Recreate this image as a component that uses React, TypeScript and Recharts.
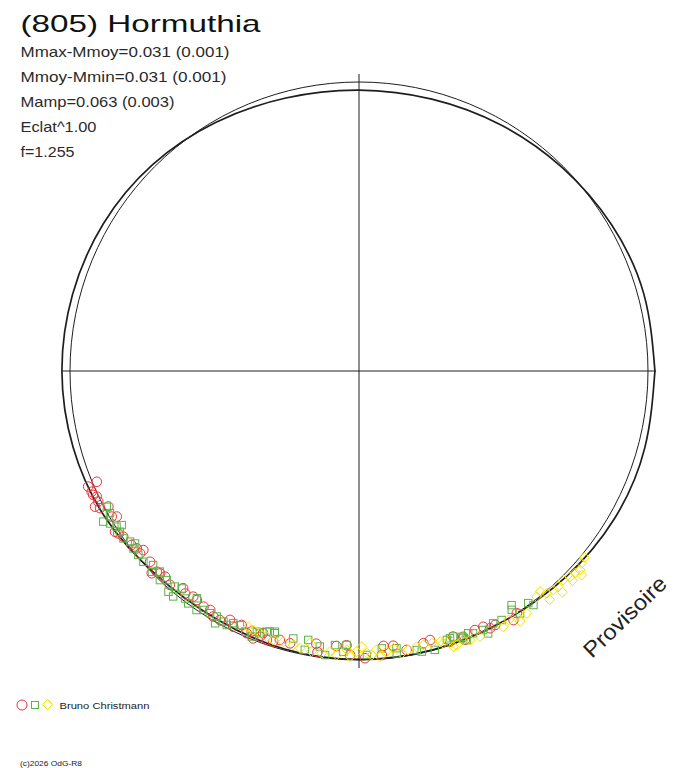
import React from 'react'
import { ScatterChart, Scatter, XAxis, YAxis, ReferenceLine, ReferenceDot } from 'recharts'

// Polar light curve: angle = rotational phase (deg, counter-clockwise from the right),
// radius = brightness relative to the mean circle (1 = mean).
const FIT_ANGLE = [0, 15, 30, 45, 60, 75, 90, 105, 120, 135, 150, 165, 180, 195, 210, 225, 240, 255, 270, 285, 300, 315, 330, 345, 360]
const FIT_RADIUS = [1.024, 1.021, 1.010, 0.995, 0.983, 0.974, 0.972, 0.978, 0.993, 1.010, 1.021, 1.026, 1.028, 1.024, 1.014, 0.995, 0.990, 0.996, 0.998, 0.998, 1.000, 1.010, 1.021, 1.024, 1.024]

// observations: [phase angle, relative radius]
const RED_OBS: [number, number][] = [
  [202.9, 0.985], [203.1, 1.019], [204.3, 1.015], [205.0, 1.015], [205.6, 1.006], [206.6, 1.009], [207.2, 1.027],
  [207.9, 1.014], [208.4, 0.986], [210.5, 0.993], [211.0, 0.978], [213.4, 1.011], [214.0, 1.005], [215.1, 0.997],
  [217.4, 0.991], [218.6, 0.984], [219.7, 0.970], [219.8, 0.986], [222.4, 0.979], [224.3, 1.002], [224.8, 0.986],
  [225.5, 0.982], [226.7, 0.978], [228.5, 0.988], [231.0, 0.967], [232.0, 0.977], [233.7, 0.969], [234.7, 0.971],
  [236.6, 0.977], [238.1, 0.974], [239.3, 0.988], [240.8, 0.987], [242.6, 0.970], [243.8, 0.986], [245.2, 0.968],
  [246.8, 0.987], [247.6, 0.975], [248.4, 0.995], [249.6, 0.981], [249.9, 0.966], [251.1, 0.984], [252.4, 0.982],
  [253.6, 0.970], [255.8, 0.972], [261.1, 0.955], [261.6, 0.983], [265.3, 0.955], [267.4, 0.950], [268.2, 0.983],
  [271.2, 0.994], [274.6, 0.986], [275.1, 0.955], [277.1, 0.958], [279.7, 0.979], [283.3, 0.968], [284.8, 0.963],
  [288.6, 0.988], [289.5, 0.975], [291.4, 0.988], [291.5, 1.000], [294.1, 0.982], [295.9, 0.984], [297.0, 0.999],
  [298.2, 0.997], [301.8, 1.014], [303.1, 1.000],
]
const GREEN_OBS: [number, number][] = [
  [208.3, 0.991], [209.7, 0.992], [210.5, 1.027], [211.5, 1.010], [212.7, 0.997], [213.0, 0.979], [213.9, 0.997],
  [215.4, 1.000], [216.7, 0.988], [217.6, 0.978], [218.2, 0.993], [219.8, 0.994], [221.5, 0.996], [223.3, 0.979],
  [224.1, 0.998], [225.2, 0.978], [226.4, 0.999], [227.4, 0.983], [229.2, 1.009], [229.5, 0.981], [230.5, 1.011],
  [230.8, 0.971], [232.6, 0.991], [233.7, 0.998], [234.5, 0.966], [235.8, 1.000], [236.9, 0.987], [238.4, 0.984],
  [239.9, 0.982], [240.3, 1.005], [241.6, 0.986], [242.5, 0.991], [243.5, 0.975], [244.9, 0.971], [246.4, 0.984],
  [248.0, 0.991], [248.6, 0.969], [249.3, 0.970], [250.5, 0.957], [251.1, 0.953], [252.1, 0.948], [252.2, 0.953],
  [256.2, 0.953], [259.0, 0.983], [259.3, 0.947], [261.9, 0.963], [263.2, 0.990], [265.0, 0.952], [266.8, 0.973],
  [267.4, 0.949], [271.6, 0.983], [274.7, 0.963], [277.6, 0.986], [277.7, 0.968], [281.7, 0.986], [282.6, 0.995],
  [285.2, 1.000], [288.1, 0.979], [288.8, 0.977], [289.5, 0.975], [291.1, 0.986], [291.3, 0.993], [291.8, 1.003],
  [292.6, 0.983], [293.5, 0.990], [295.6, 0.994], [296.2, 1.012], [298.0, 0.989], [299.8, 0.993], [302.6, 0.981],
  [303.1, 0.967], [303.6, 1.007], [306.1, 0.994], [306.7, 1.010],
]
const YELLOW_OBS: [number, number][] = [
  [246.6, 0.965], [247.8, 0.968], [249.3, 0.970], [250.8, 0.973], [252.3, 0.977], [254.4, 0.973], [256.5, 0.975],
  [258.0, 0.981], [259.8, 0.957], [260.4, 0.985], [262.5, 0.985], [264.1, 0.976], [265.5, 0.986], [267.5, 0.966],
  [268.2, 0.989], [269.5, 0.971], [270.6, 0.954], [271.6, 0.977], [272.6, 0.984], [273.6, 0.967], [274.2, 0.991],
  [275.6, 0.976], [277.1, 0.967], [278.6, 0.988], [280.0, 0.980], [281.8, 0.975], [283.2, 0.974], [285.0, 0.975],
  [286.7, 0.978], [287.2, 0.986], [288.7, 0.983], [288.9, 1.008], [289.6, 1.007], [291.2, 0.998], [292.4, 1.007],
  [294.5, 1.010], [299.4, 1.016], [301.0, 1.005], [302.7, 1.010], [302.8, 1.030], [304.7, 1.020], [308.2, 0.994],
  [309.4, 0.988], [309.8, 1.030], [310.2, 1.007], [311.6, 1.013], [312.6, 1.040], [312.7, 1.016], [314.3, 1.011],
  [315.5, 1.035], [315.7, 1.020], [316.9, 1.024], [317.5, 1.045], [318.0, 1.029], [319.2, 1.018], [320.4, 1.012],
]

const TITLE = '(805) Hormuthia'
const STATS = ['Mmax-Mmoy=0.031 (0.001)', 'Mmoy-Mmin=0.031 (0.001)', 'Mamp=0.063 (0.003)', 'Eclat^1.00', 'f=1.255']
const OBSERVER = 'Bruno Christmann'
const STAMP = 'Provisoire'
const COPYRIGHT = '(c)2026 OdG-R8'

const MEAN_RADIUS = 1
const AXIS_REACH = 1.028
const VIEW = 1.0727

const SIZE = 620
const INK = '#1e1e1e'
const RED = '#e8353a'
const GREEN = '#5cb447'
const YELLOW = '#f2e200'
const FONT = '"Liberation Sans", Arial, sans-serif'
const STAT_WIDTHS = [209, 206, 154, 76, 54]

const toXY = ([deg, r]: [number, number]) => ({
  x: r * Math.cos((deg * Math.PI) / 180),
  y: r * Math.sin((deg * Math.PI) / 180),
})

const fitData = FIT_ANGLE.map((a, i) => toXY([a, FIT_RADIUS[i]]))
const redData = RED_OBS.map(toXY)
const greenData = GREEN_OBS.map(toXY)
const yellowData = YELLOW_OBS.map(toXY)

const Ring = (p: any) => <circle cx={p.cx} cy={p.cy} r={4.8} fill="none" stroke={RED} strokeWidth={1} />
const Box = (p: any) => (
  <rect x={p.cx - 3.7} y={p.cy - 3.7} width={7.4} height={7.4} fill="none" stroke={GREEN} strokeWidth={1} />
)
const Diamond = (p: any) => (
  <path
    d={`M${p.cx},${p.cy - 5}L${p.cx + 5},${p.cy}L${p.cx},${p.cy + 5}L${p.cx - 5},${p.cy}Z`}
    fill="none"
    stroke={YELLOW}
    strokeWidth={1}
  />
)
const NoMark = () => <g />

export default function App() {
  const circlePx = (MEAN_RADIUS * SIZE) / (2 * VIEW)
  return (
    <div style={{ position: 'absolute', left: 0, top: 0, width: 688, height: 768, background: '#fff' }}>
      <div style={{ position: 'absolute', left: 49, top: 61, width: SIZE, height: SIZE }}>
        <ScatterChart width={SIZE} height={SIZE} margin={{ top: 0, right: 0, bottom: 0, left: 0 }}>
          <XAxis type="number" dataKey="x" domain={[-VIEW, VIEW]} allowDataOverflow hide />
          <YAxis type="number" dataKey="y" domain={[-VIEW, VIEW]} allowDataOverflow hide />
          <ReferenceLine segment={[{ x: -AXIS_REACH, y: 0 }, { x: AXIS_REACH, y: 0 }]} stroke={INK} strokeWidth={1} />
          <ReferenceLine segment={[{ x: 0, y: -AXIS_REACH }, { x: 0, y: AXIS_REACH }]} stroke={INK} strokeWidth={1} />
          <ReferenceDot x={0} y={0} r={circlePx} fill="none" stroke={INK} strokeWidth={1} />
          <Scatter
            data={fitData}
            line={{ stroke: INK, strokeWidth: 1.7 }}
            lineJointType="natural"
            shape={NoMark}
            isAnimationActive={false}
          />
          <Scatter data={redData} shape={Ring} isAnimationActive={false} />
          <Scatter data={greenData} shape={Box} isAnimationActive={false} />
          <Scatter data={yellowData} shape={Diamond} isAnimationActive={false} />
        </ScatterChart>
      </div>
      <svg
        width={688}
        height={768}
        style={{ position: 'absolute', left: 0, top: 0, pointerEvents: 'none' }}
        fontFamily={FONT}
      >
        <text x={20.5} y={32} fontSize={24} fill="#111" textLength={240} lengthAdjust="spacingAndGlyphs">
          {TITLE}
        </text>
        {STATS.map((s, i) => (
          <text
            key={s}
            x={20.5}
            y={57 + i * 25}
            fontSize={15}
            fill="#2a2a2a"
            textLength={STAT_WIDTHS[i]}
            lengthAdjust="spacingAndGlyphs"
          >
            {s}
          </text>
        ))}
        <text
          x={0}
          y={0}
          fontSize={22}
          fill="#222"
          textLength={106}
          lengthAdjust="spacingAndGlyphs"
          transform="translate(592 659) rotate(-44)"
        >
          {STAMP}
        </text>
        <circle cx={22} cy={705} r={5} fill="none" stroke={RED} />
        <rect x={31.5} y={701.5} width={7} height={7} fill="none" stroke={GREEN} />
        <path d="M47.5,699.5L52.5,704.5L47.5,709.5L42.5,704.5Z" fill="none" stroke={YELLOW} />
        <text x={59.5} y={709} fontSize={8.5} fill="#222" textLength={90} lengthAdjust="spacingAndGlyphs">
          {OBSERVER}
        </text>
        <text x={20} y={766} fontSize={7.5} fill="#222" textLength={62} lengthAdjust="spacingAndGlyphs">
          {COPYRIGHT}
        </text>
      </svg>
    </div>
  )
}
